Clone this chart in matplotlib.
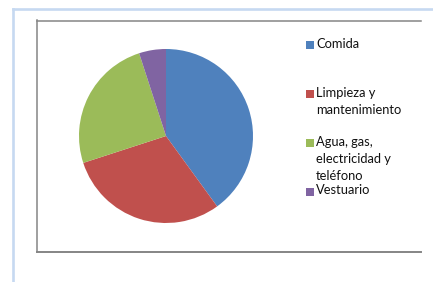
import matplotlib
matplotlib.use('Agg')
import matplotlib.pyplot as plt
from matplotlib.lines import Line2D
from matplotlib.patches import Rectangle

W, H = 433, 282

labels = ['Comida', 'Limpieza y\nmantenimiento', 'Agua, gas,\nelectricidad y\nteléfono', 'Vestuario']
values = [40, 30, 25, 5]
colors = ['#4F81BD', '#C0504D', '#9BBB59', '#8064A2']

plt.rcParams['font.family'] = ['Lato', 'DejaVu Sans']

fig = plt.figure(figsize=(W / 100, H / 100), dpi=100)


def fx(px):
    return px / W


def fy(py):
    return 1 - py / H


# outer light-blue frame (top and left only)
fig.add_artist(Line2D([fx(13), fx(433)], [fy(9), fy(9)], color='#c6d9f1', lw=1.9))
fig.add_artist(Line2D([fx(13), fx(13)], [fy(9), fy(282)], color='#c6d9f1', lw=1.9))

# inner chart box (open on the right)
box_c = '#858585'
fig.add_artist(Line2D([fx(37), fx(421)], [fy(20.5), fy(20.5)], color=box_c, lw=1.1))
fig.add_artist(Line2D([fx(37), fx(37)], [fy(20), fy(252)], color=box_c, lw=1.1))
fig.add_artist(Line2D([fx(37), fx(421)], [fy(252), fy(252)], color=box_c, lw=1.4))

# pie
cx, cy, r = 166, 136, 87
ax = fig.add_axes([fx(cx - r), fy(cy + r), 2 * r / W, 2 * r / H])
ax.pie(values, colors=colors, startangle=90, counterclock=False,
       wedgeprops=dict(edgecolor='none'))
ax.set_xlim(-1, 1)
ax.set_ylim(-1, 1)
ax.set_aspect('auto')
ax.axis('off')

# legend
leg_y = [45, 94, 143, 192]
for lab, col, y in zip(labels, colors, leg_y):
    fig.add_artist(Rectangle((fx(306), fy(y + 4)), 8 / W, 8 / H,
                             transform=fig.transFigure, facecolor=col, edgecolor='none'))
    fig.text(fx(316), fy(y - 7.5), lab, fontsize=9.3, color='#111111',
             va='top', ha='left', linespacing=1.5)

fig.savefig('out.png', dpi=100)
